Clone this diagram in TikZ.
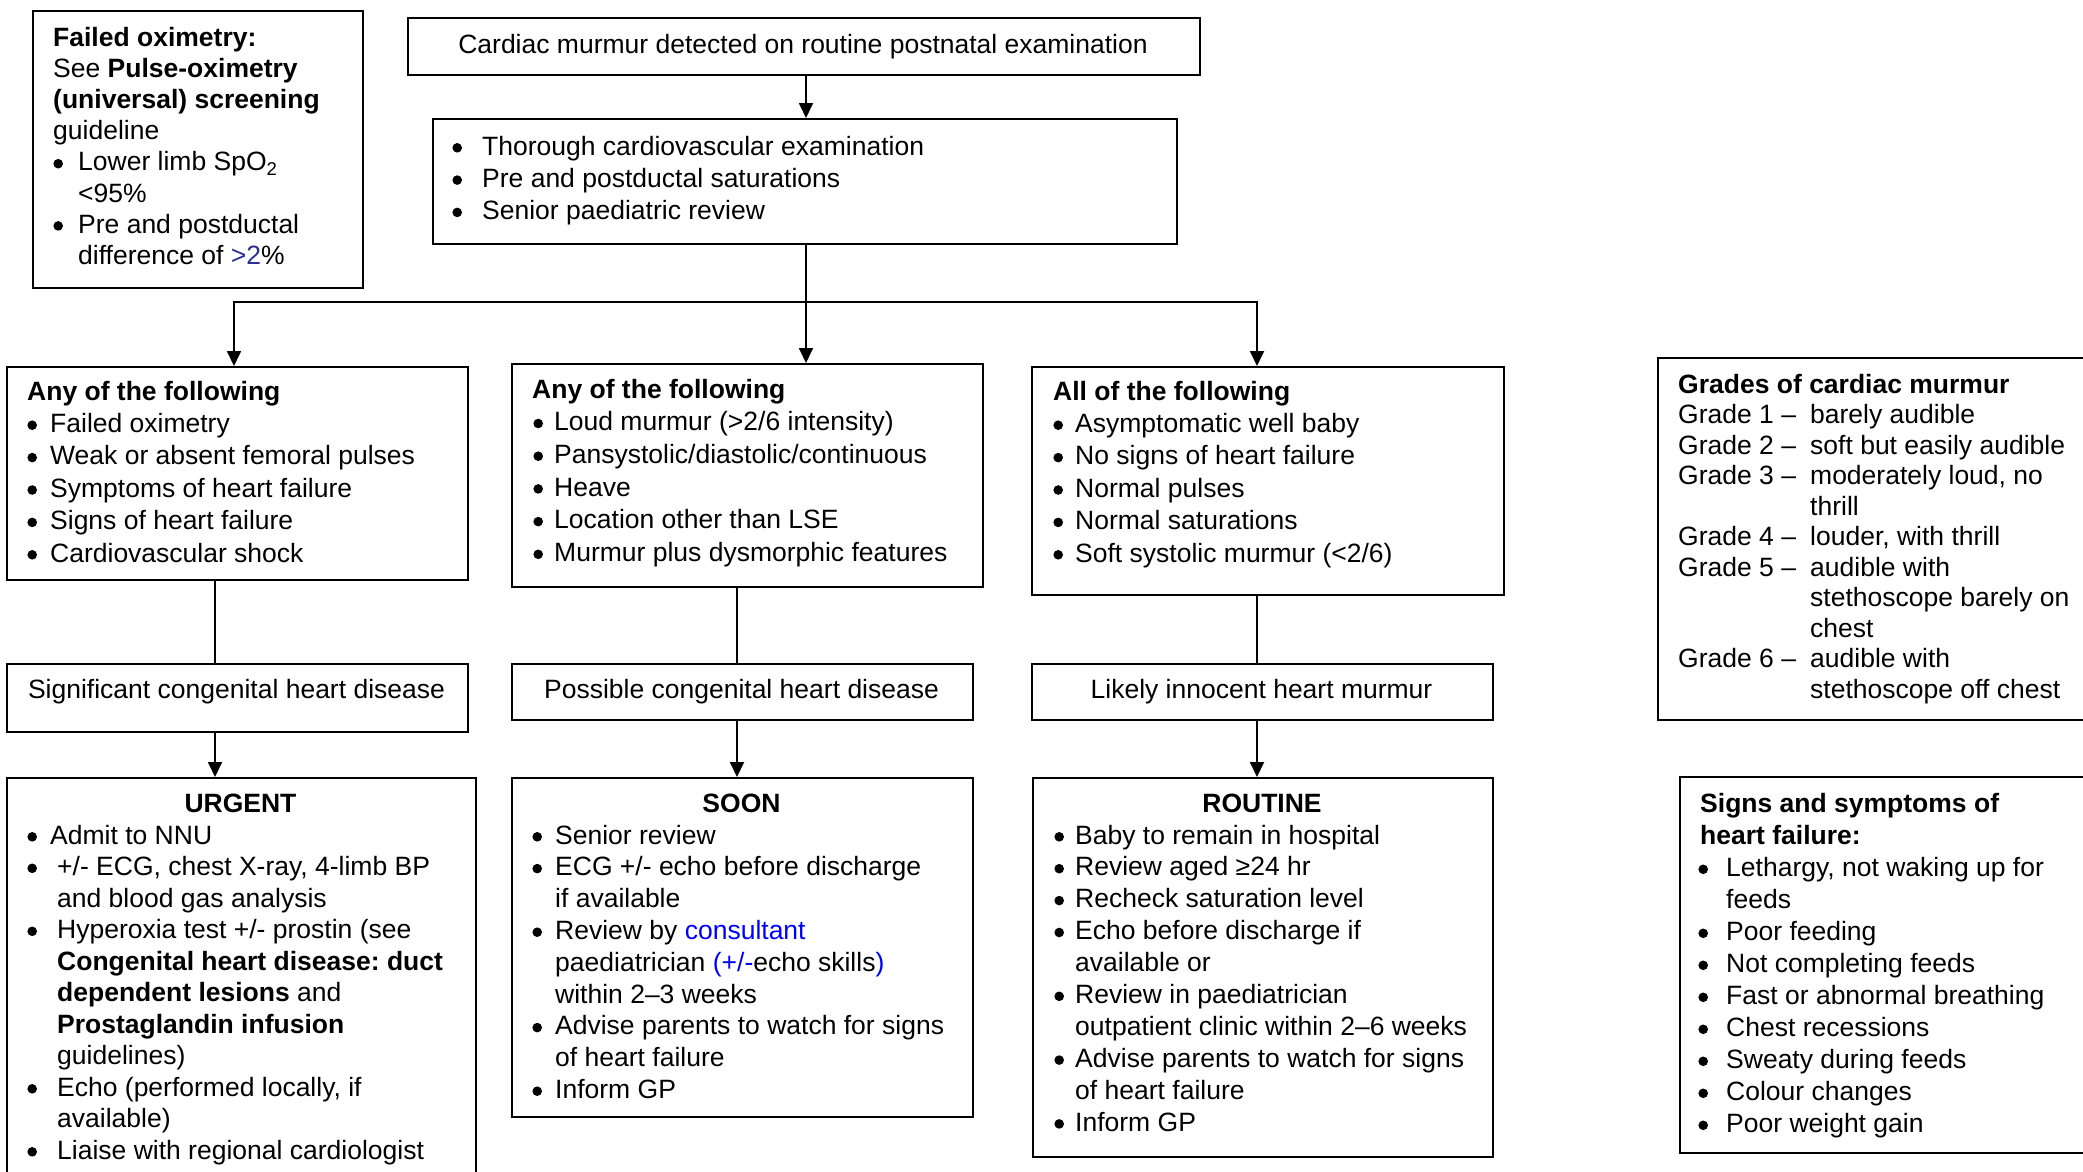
\documentclass[tikz,border=0pt]{standalone}
\usepackage{fontspec}
\setmainfont{Liberation Sans}
\usetikzlibrary{arrows.meta}
\definecolor{navyb}{rgb}{0.18,0.18,0.6}
\definecolor{linkb}{rgb}{0,0,1}
\newlength\hx \newlength\bx \newlength\tx
\newcommand\setoff[3]{\setlength\hx{#1pt}\setlength\bx{#2pt}\setlength\tx{#3pt}}
\newcommand\fsz[1]{\fontsize{26.5pt}{#1pt}\selectfont\frenchspacing}
\newcommand\bigbul{\hspace*{-0.2pt}\raisebox{2.4pt}{\tikz\fill (0pt,0pt) circle [radius=4.8pt];}}
\newcommand\Hd[1]{\par\noindent\hspace*{\hx}#1}
\newcommand\Bu[2][\tx]{\par\noindent\makebox[0pt][l]{\hspace*{\bx}\bigbul}\hspace*{#1}#2}
\newcommand\Co[2][\tx]{\par\noindent\hspace*{#1}#2}
\newcommand\Gr[2]{\par\noindent\hspace*{\hx}\makebox[132pt][l]{#1}#2}
\newcommand\TB[2]{\parbox[t]{640pt}{\fsz{#1}#2}}
\begin{document}
\begin{tikzpicture}[x=1pt,y=-1pt,
  box/.style={draw, line width=2pt, inner sep=0, anchor=north west},
  txt/.style={anchor=base west, inner sep=0},
  ctr/.style={anchor=base, inner sep=0, font=\fsz{32}},
  con/.style={line width=1.8pt},
  arr/.style={con, -{Triangle[length=15pt,width=14pt]}}]
\fill[white] (0,0) rectangle (2083,1171);
\useasboundingbox (0,0) rectangle (2083,1171);
% boxes
\node[box, minimum width=330, minimum height=277] (oxi) at (32,10) {};
\node[box, minimum width=792, minimum height=57] (top) at (407,17) {};
\node[box, minimum width=744, minimum height=125] (exam) at (432,118) {};
\node[box, minimum width=461, minimum height=213] (any1) at (6,366) {};
\node[box, minimum width=471, minimum height=223] (any2) at (511,363) {};
\node[box, minimum width=472, minimum height=228] (all3) at (1031,366) {};
\node[box, minimum width=461, minimum height=68] (sig) at (6,663) {};
\node[box, minimum width=461, minimum height=56] (pos) at (511,663) {};
\node[box, minimum width=461, minimum height=56] (lik) at (1031,663) {};
\node[box, minimum width=469, minimum height=430] (urg) at (6,777) {};
\node[box, minimum width=461, minimum height=339] (soon) at (511,777) {};
\node[box, minimum width=460, minimum height=379] (rout) at (1032,777) {};
\node[box, minimum width=470, minimum height=362] (grades) at (1657,357) {};
\node[box, minimum width=450, minimum height=376] (signs) at (1679,776) {};
% texts
\node[txt] (oxiT) at (32,46.5) {\TB{31.1}{\setoff{21}{21.4}{46}
\Hd{\textbf{Failed oximetry:}}
\Hd{See \textbf{Pulse-oximetry}}
\Hd{\textbf{(universal) screening}}
\Hd{guideline}
\Bu{Lower limb SpO\textsubscript{2}}
\Co{<95\%}
\Bu{Pre and postductal}
\Co{difference of \textcolor{navyb}{>2}\%}}};
\node[ctr] (topT) at (803,53) {Cardiac murmur detected on routine postnatal examination};
\node[txt] (examT) at (432,155) {\TB{32.3}{\setoff{0}{20.4}{50}
\Bu{Thorough cardiovascular examination}
\Bu{Pre and postductal saturations}
\Bu{Senior paediatric review}}};
\node[txt] (any1T) at (6,400) {\TB{32.4}{\setoff{21}{21.4}{44}
\Hd{\textbf{Any of the following}}
\Bu{Failed oximetry}
\Bu{Weak or absent femoral pulses}
\Bu{Symptoms of heart failure}
\Bu{Signs of heart failure}
\Bu{Cardiovascular shock}}};
\node[txt] (any2T) at (511,398) {\TB{32.7}{\setoff{21}{22.4}{43}
\Hd{\textbf{Any of the following}}
\Bu{Loud murmur (>2/6 intensity)}
\Bu{Pansystolic/diastolic/continuous}
\Bu{Heave}
\Bu{Location other than LSE}
\Bu{Murmur plus dysmorphic features}}};
\node[txt] (all3T) at (1031,400) {\TB{32.4}{\setoff{22}{22.4}{44}
\Hd{\textbf{All of the following}}
\Bu{Asymptomatic well baby}
\Bu{No signs of heart failure}
\Bu{Normal pulses}
\Bu{Normal saturations}
\Bu{Soft systolic murmur (<2/6)}}};
\node[ctr] (sigT) at (236.5,698) {Significant congenital heart disease};
\node[ctr] (posT) at (741.5,698) {Possible congenital heart disease};
\node[ctr] (likT) at (1261.5,698) {Likely innocent heart murmur};
\node[ctr] (urgH) at (240.5,812.5) {\bfseries URGENT};
\node[ctr] (soonH) at (741.5,812.5) {\bfseries SOON};
\node[ctr] (routH) at (1262,812.5) {\bfseries ROUTINE};
\node[txt] (urgT) at (6,844) {\TB{31.5}{\setoff{0}{21.4}{51}
\Bu[44pt]{Admit to NNU}
\Bu{+/- ECG, chest X-ray, 4-limb BP}
\Co{and blood gas analysis}
\Bu{Hyperoxia test +/- prostin (see}
\Co{\textbf{Congenital heart disease: duct}}
\Co{\textbf{dependent lesions} and}
\Co{\textbf{Prostaglandin infusion}}
\Co{guidelines)}
\Bu{Echo (performed locally, if}
\Co{available)}
\Bu{Liaise with regional cardiologist}}};
\node[txt] (soonT) at (511,844) {\TB{31.8}{\setoff{0}{21.4}{44}
\Bu{Senior review}
\Bu{ECG +/- echo before discharge}
\Co{if available}
\Bu{Review by \textcolor{linkb}{consultant}}
\Co{paediatrician \textcolor{linkb}{(+/-}echo skills\textcolor{linkb}{)}}
\Co{within 2–3 weeks}
\Bu{Advise parents to watch for signs}
\Co{of heart failure}
\Bu{Inform GP}}};
\node[txt] (routT) at (1032,844) {\TB{31.9}{\setoff{0}{22.4}{43}
\Bu{Baby to remain in hospital}
\Bu{Review aged ≥24 hr}
\Bu{Recheck saturation level}
\Bu{Echo before discharge if}
\Co{available or}
\Bu{Review in paediatrician}
\Co{outpatient clinic within 2–6 weeks}
\Bu{Advise parents to watch for signs}
\Co{of heart failure}
\Bu{Inform GP}}};
\node[txt] (gradesT) at (1657,393) {\TB{30.5}{\setoff{21}{0}{0}
\Hd{\textbf{Grades of cardiac murmur}}
\Gr{Grade 1 –}{barely audible}
\Gr{Grade 2 –}{soft but easily audible}
\Gr{Grade 3 –}{moderately loud, no}
\Gr{}{thrill}
\Gr{Grade 4 –}{louder, with thrill}
\Gr{Grade 5 –}{audible with}
\Gr{}{stethoscope barely on}
\Gr{}{chest}
\Gr{Grade 6 –}{audible with}
\Gr{}{stethoscope off chest}}};
\node[txt] (signsT) at (1679,812.5) {\TB{32}{\setoff{21}{19.4}{47}
\Hd{\textbf{Signs and symptoms of}}
\Hd{\textbf{heart failure:}}
\Bu{Lethargy, not waking up for}
\Co{feeds}
\Bu{Poor feeding}
\Bu{Not completing feeds}
\Bu{Fast or abnormal breathing}
\Bu{Chest recessions}
\Bu{Sweaty during feeds}
\Bu{Colour changes}
\Bu{Poor weight gain}}};
% connectors
\coordinate (j0) at (806,302);
\coordinate (j1) at (234,302);
\coordinate (j3) at (1257,302);
\coordinate (v1) at (215,0);
\coordinate (v2) at (737,0);
\coordinate (v3) at (1257,0);
\draw[arr] (top.south -| j0) -- (exam.north -| j0);
\draw[con] (exam.south -| j0) -- (j0);
\draw[arr] (j0) -- (j1) -- (j1 |- any1.north);
\draw[arr] (j0) -- (j3) -- (j3 |- all3.north);
\draw[arr] (j0) -- (j0 |- any2.north);
\draw[con] (any1.south -| v1) -- (sig.north -| v1);
\draw[arr] (sig.south -| v1) -- (urg.north -| v1);
\draw[con] (any2.south -| v2) -- (pos.north -| v2);
\draw[arr] (pos.south -| v2) -- (soon.north -| v2);
\draw[con] (all3.south -| v3) -- (lik.north -| v3);
\draw[arr] (lik.south -| v3) -- (rout.north -| v3);
\end{tikzpicture}
\end{document}
